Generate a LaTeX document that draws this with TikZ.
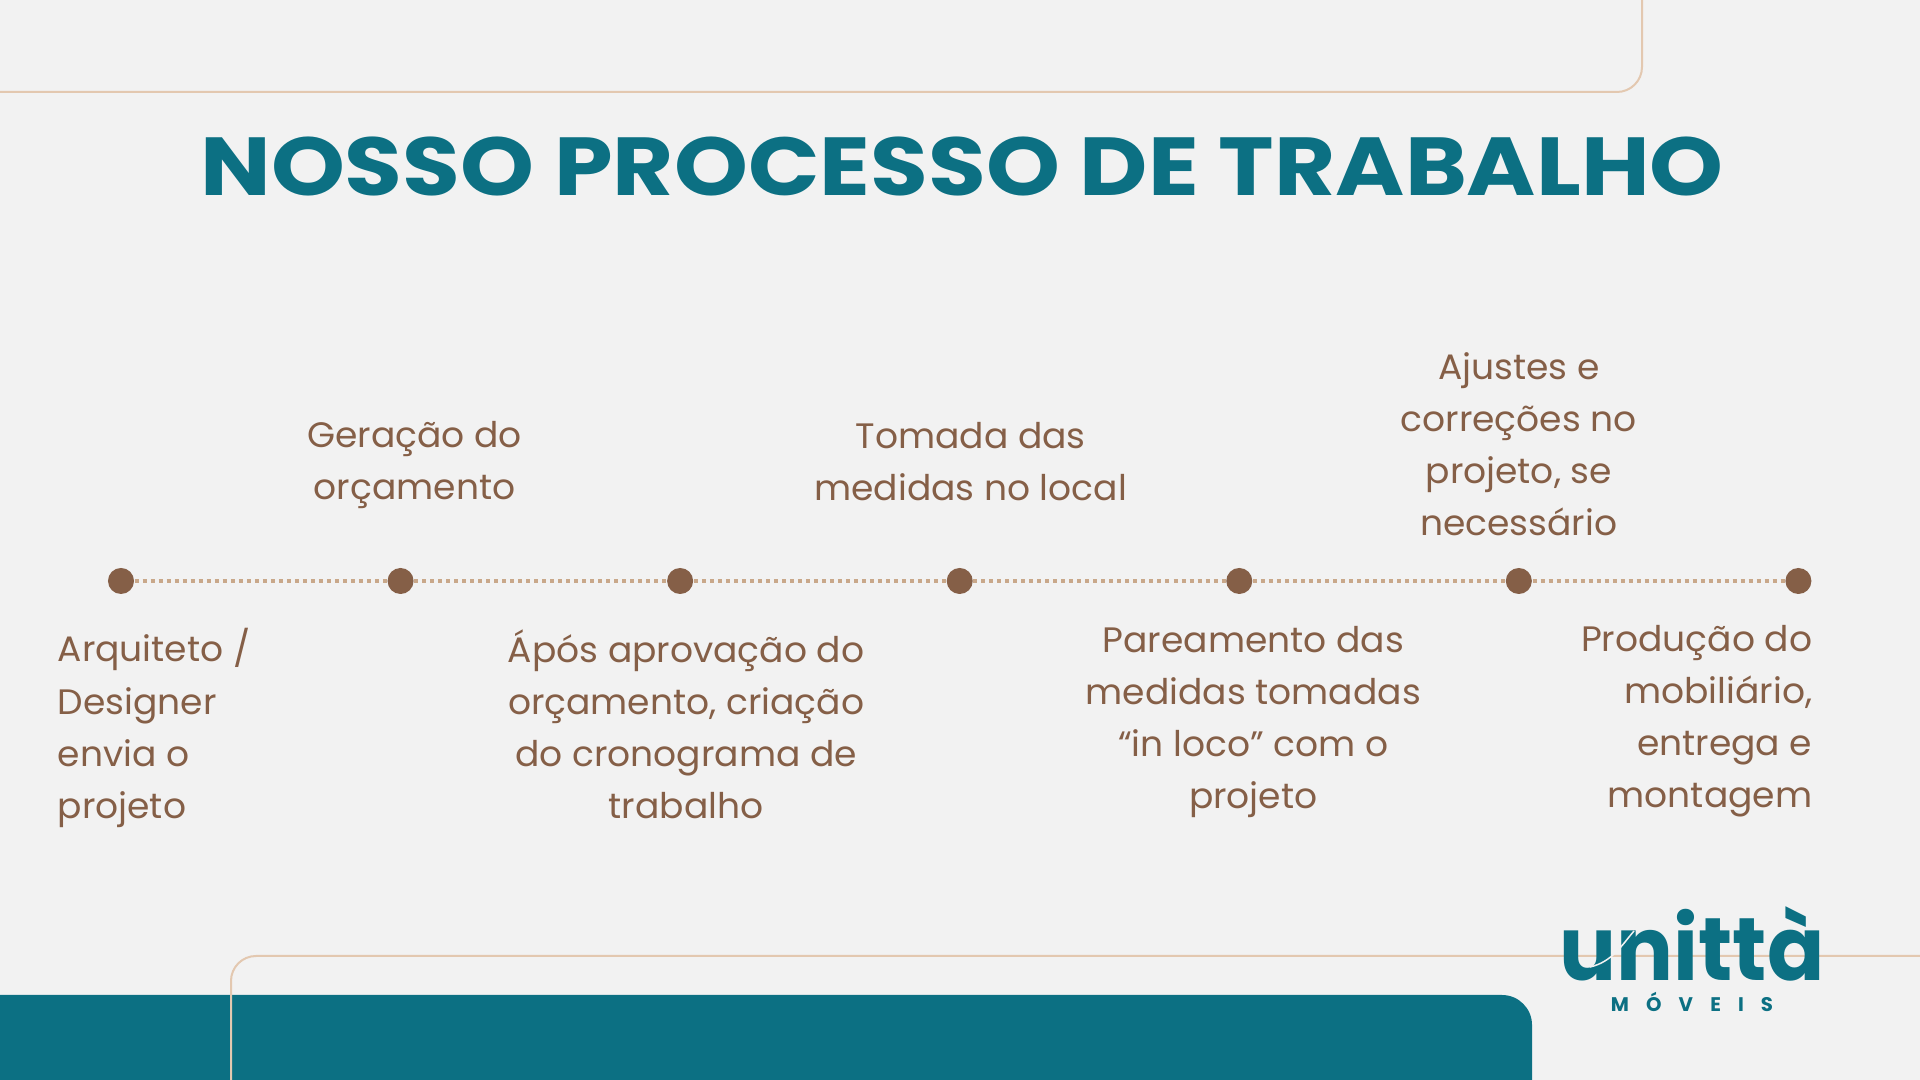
\documentclass[tikz,border=0pt]{standalone}
\usepackage{fontspec}
\setmainfont{Poppins}
\usepackage{xcolor}
\usetikzlibrary{positioning}
\definecolor{pagebg}{HTML}{F2F2F2}
\definecolor{tealmain}{HTML}{0C7083}
\definecolor{brownmain}{HTML}{855F47}
\definecolor{beigeline}{HTML}{E3C8B0}
\definecolor{dotbeige}{HTML}{C9A88A}
\tikzset{
  stepdot/.style={
    circle, fill=brownmain, inner sep=0pt, minimum size=0.26cm
  },
  stepline/.style={
    dotbeige, line width=0.045cm, dash pattern=on 0.04cm off 0.04cm
  },
  framing/.style={beigeline, line width=0.02cm, rounded corners=0.25cm},
  steptext/.style={
    text=brownmain, align=center, inner sep=0pt,
    font=\fontsize{10.05}{14.8}\selectfont\addfontfeature{FakeStretch=1.02}
  },
  titletext/.style={
    text=tealmain, inner sep=0pt,
    font=\fontsize{23.4}{28}\selectfont\bfseries\addfontfeature{FakeStretch=1.142}
  },
  logotext/.style={
    text=tealmain, inner sep=0pt,
    font=\fontsize{25.3}{30}\selectfont\bfseries\addfontfeature{FakeStretch=0.95}
  },
  logosub/.style={
    text=tealmain, inner sep=0pt,
    font=\fontsize{5.6}{7}\selectfont\bfseries\addfontfeature{LetterSpace=87}
  }
}

\begin{document}
\begin{tikzpicture}[x=0.01cm, y=-0.01cm, node distance=0.2cm]

  \useasboundingbox (0,0) rectangle (1920,1080);
  \fill[pagebg] (0,0) rectangle (1920,1080);

  % bar and frame lines
  \fill[tealmain] (0,1080) -- (0,995) -- (1502,995) arc[start angle=90, end angle=0, radius=0.3cm] -- (1532,1080) -- cycle;
  \draw[framing] (0,92) -- (1642,92) -- (1642,0);
  \draw[framing] (231,1080) -- (231,956) -- (1920,956);

  \node[titletext] (title) at (962,167) {NOSSO PROCESSO DE TRABALHO};

  % timeline
  \node[stepdot] (d1) at (121,581) {};
  \node[stepdot, right=2.52cm of d1] (d2) {};
  \node[stepdot, right=2.52cm of d2] (d3) {};
  \node[stepdot, right=2.52cm of d3] (d4) {};
  \node[stepdot, right=2.52cm of d4] (d5) {};
  \node[stepdot, right=2.52cm of d5] (d6) {};
  \node[stepdot, right=2.52cm of d6] (d7) {};

  \draw[stepline] (d1) -- (d2);
  \draw[stepline] (d2) -- (d3);
  \draw[stepline] (d3) -- (d4);
  \draw[stepline] (d4) -- (d5);
  \draw[stepline] (d5) -- (d6);
  \draw[stepline] (d6) -- (d7);

  % labels
  \node[steptext, align=left, anchor=north west] (t1) at (57,628)
        {Arquiteto /\\Designer\\envia o\\projeto};
  \node[steptext, above=0.576cm of d2, xshift=0.14cm] (t2)
        {Geração do\\orçamento};
  \node[steptext, below=0.34cm of d3, xshift=0.06cm] (t3)
        {Ápós aprovação do\\orçamento, criação\\do cronograma de\\trabalho};
  \node[steptext, above=0.66cm of d4, xshift=0.11cm] (t4)
        {Tomada das\\medidas no local};
  \node[steptext, below=0.31cm of d5, xshift=0.14cm] (t5)
        {Pareamento das\\medidas tomadas\\“in loco” com o\\projeto};
  \node[steptext, above=0.31cm of d6] (t6)
        {Ajustes e\\correções no\\projeto, se\\necessário};
  \node[steptext, align=right, anchor=north east] (t7) at (1813,625)
        {Produção do\\mobiliário,\\entrega e\\montagem};

  % logo
  \node[logotext] (logo) at (1692,944) {unittà};
  \draw[pagebg, line width=0.015cm] (1590,967) .. controls (1612,962) and (1622,945) .. (1634,931);
  \node[logosub, below=0.1cm of logo] (logosub) {MÓVEIS};

\end{tikzpicture}
\end{document}
